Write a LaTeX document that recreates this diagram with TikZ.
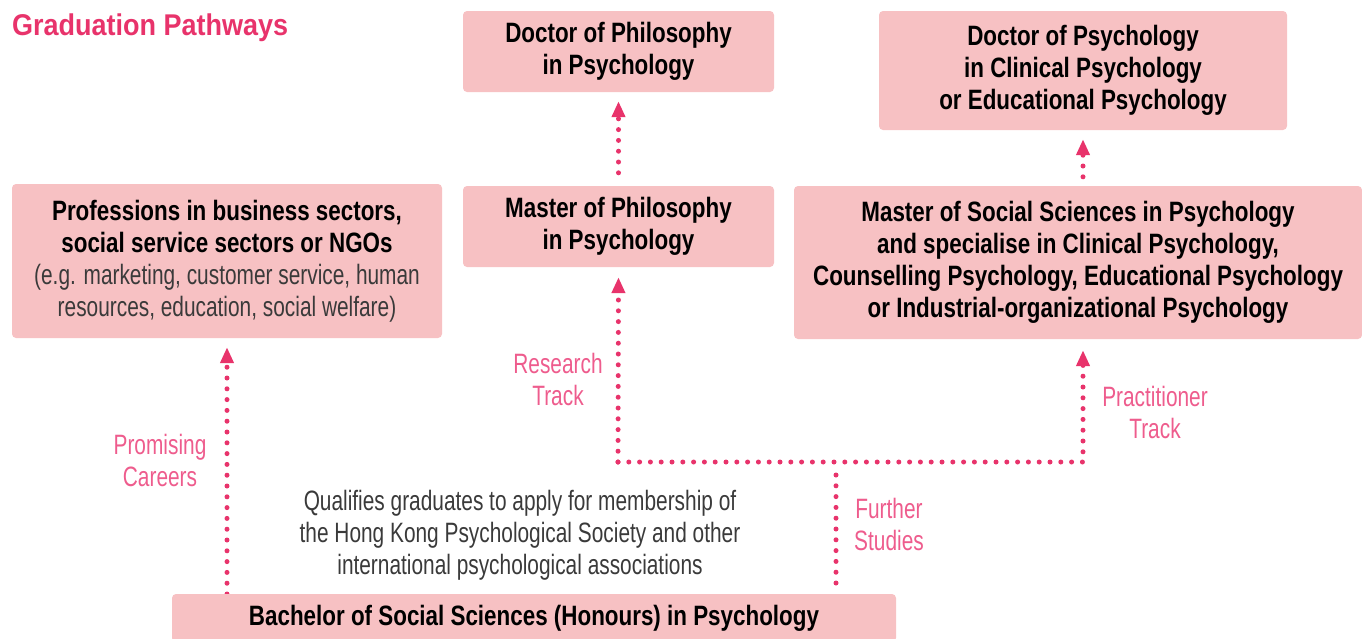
\documentclass[tikz,border=0pt]{standalone}
\usepackage{fontspec}
\setmainfont{Liberation Sans}[UprightFeatures={FakeStretch=0.745},BoldFeatures={FakeStretch=0.80}]
\newfontfamily\titlefont{Liberation Sans}[FakeStretch=0.9]
\usetikzlibrary{arrows.meta}
\definecolor{boxpink}{HTML}{F7C1C3}
\definecolor{dotpink}{HTML}{E8336B}
\definecolor{labelpink}{HTML}{EE5C8D}
\definecolor{notegray}{HTML}{3A3A3A}

\begin{document}
\begin{tikzpicture}[x=1pt,y=-1pt,
  every node/.style={inner sep=0pt},
  box/.style={fill=boxpink,rounded corners=4pt,align=center,
    font=\bfseries\fontsize{28}{32}\selectfont},
  track/.style={labelpink,align=center,font=\fontsize{28}{32}\selectfont},
  note/.style={notegray,align=center,font=\fontsize{28}{32}\selectfont},
  dotline/.style={dotpink,line width=5pt,line cap=round,dash pattern=on 0pt off 10.8pt},
  dotarrow/.style={dotline,-{Triangle[width=13pt,length=16pt]}}]
\useasboundingbox (0,0) rectangle (1362,638);

% title
\node[anchor=base west,dotpink,font=\titlefont\bfseries\fontsize{30}{32}\selectfont] (title) at (12,35) {Graduation Pathways};

% boxes
\node[box,minimum width=311,minimum height=81] (phd) at (618.5,51.5) {Doctor of Philosophy\\in Psychology};
\node[box,minimum width=408,minimum height=119] (dpsy) at (1083,70.5) {Doctor of Psychology\\in Clinical Psychology\\or Educational Psychology};
\node[box,minimum width=430,minimum height=154,font=\fontsize{28}{32}\selectfont] (prof) at (227,261)
  {\textbf{Professions in business sectors,}\\\textbf{social service sectors or NGOs}\\
   \color{notegray}(e.g. marketing, customer service, human\\\color{notegray}resources, education, social welfare)};
\node[box,minimum width=311,minimum height=81] (mphil) at (618.5,226.5) {Master of Philosophy\\in Psychology};
\node[box,minimum width=568,minimum height=153] (mssc) at (1078,262.5)
  {Master of Social Sciences in Psychology\\and specialise in Clinical Psychology,\\Counselling Psychology, Educational Psychology\\or Industrial-organizational Psychology};

% connectors
\coordinate (rt) at (618,462);
\coordinate (pt) at (1083,462);
\coordinate (fs) at (836,475);
\draw[dotarrow,shorten <=13pt,shorten >=9pt] (mphil.north) -- (phd.south);
\draw[dotarrow,shorten <=9pt,shorten >=9pt] (dpsy.south |- mssc.north) -- (dpsy.south);
\draw[dotarrow,shorten >=10pt] (rt) -- (mphil.south);
\draw[dotarrow,shorten >=11pt] (rt) -- (pt) -- (mssc.south -| pt);
\draw[dotarrow,shorten >=9pt] (prof.south |- 0,594) -- (prof.south);
\draw[dotline] (fs |- 0,583) -- (fs);

\node[box,minimum width=724,minimum height=48] (bach) at (534,618) {Bachelor of Social Sciences (Honours) in Psychology};

% labels
\node[track] (careers) at (160,460) {Promising\\Careers};
\node[track] (research) at (558,379) {Research\\Track};
\node[track] (practice) at (1155,412) {Practitioner\\Track};
\node[track] (further) at (889,524) {Further\\Studies};
\node[note] (member) at (520,535) {Qualifies graduates to apply for membership of\\the Hong Kong Psychological Society and other\\international psychological associations};
\end{tikzpicture}
\end{document}
